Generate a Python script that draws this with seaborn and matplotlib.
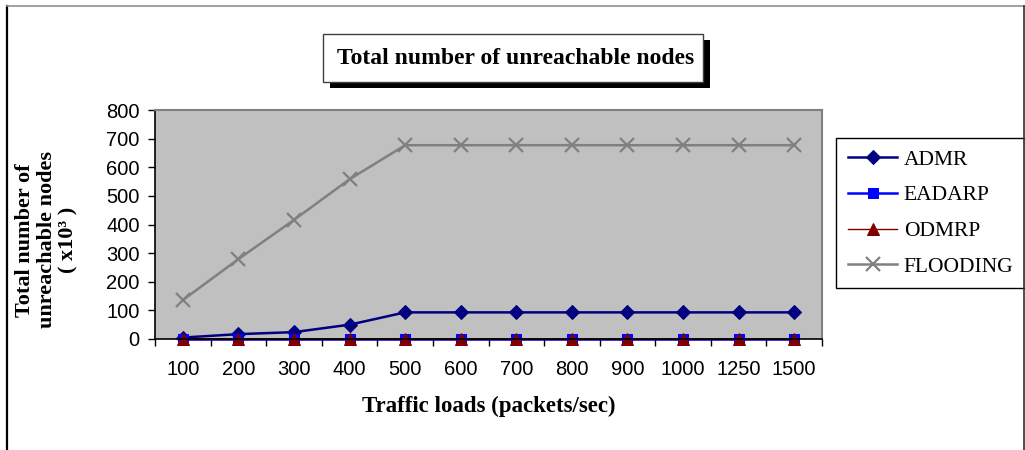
import matplotlib
matplotlib.use("Agg")
import matplotlib.pyplot as plt
import seaborn as sns
import pandas as pd
from matplotlib.patches import Rectangle
from matplotlib.lines import Line2D

# Traffic loads (packets/sec)
loads = ["100", "200", "300", "400", "500", "600", "700", "800", "900", "1000", "1250", "1500"]

# Unreachable nodes (x10^3) per protocol
admr = [5, 17, 24, 50, 93, 93, 93, 93, 93, 93, 93, 93]
eadarp = [1, 1, 1, 1, 1, 1, 1, 1, 1, 1, 1, 1]
odmrp = [0, 0, 0, 0, 0, 0, 0, 0, 0, 0, 0, 0]
flooding = [136, 279, 416, 558, 677, 677, 677, 677, 677, 677, 677, 677]

y_ticks = [0, 100, 200, 300, 400, 500, 600, 700, 800]

series = {"ADMR": admr, "EADARP": eadarp, "ODMRP": odmrp, "FLOODING": flooding}
styles = {
    "ADMR": dict(color="#000080", marker="D", markersize=7.5, linewidth=1.8),
    "EADARP": dict(color="#0000FF", marker="s", markersize=7, linewidth=1.8),
    "ODMRP": dict(color="#800000", marker="^", markersize=8.5, linewidth=1.0),
    "FLOODING": dict(color="#808080", marker="x", markersize=10, linewidth=1.8,
                     markeredgewidth=1.6),
}

df = pd.DataFrame(
    [(name, load, val) for name, vals in series.items() for load, val in zip(loads, vals)],
    columns=["protocol", "load", "value"],
)

W, H = 1025, 450
fig = plt.figure(figsize=(W / 100, H / 100), dpi=100)
fig.patch.set_facecolor("white")

ax = fig.add_axes([155 / W, 1 - 339 / H, (822 - 155) / W, (339 - 110) / H])
ax.set_facecolor("#C0C0C0")

for name in ["ADMR", "EADARP", "ODMRP", "FLOODING"]:
    st = dict(styles[name])
    sub = df[df["protocol"] == name]
    sns.lineplot(data=sub, x="load", y="value", ax=ax, sort=False, label=name,
                 markeredgecolor=st["color"], clip_on=False, **st)

ax.set_xlim(-0.5, len(loads) - 0.5)
ax.set_ylim(0, 800)
ax.set_yticks(y_ticks)
ax.set_yticklabels([str(v) for v in y_ticks], fontsize=14.5, family="Liberation Sans")
ax.set_xticks(range(len(loads)))
ax.set_xticklabels(loads, fontsize=14.5, family="Liberation Sans")
ax.set_xticks([i - 0.5 for i in range(len(loads) + 1)], minor=True)
ax.tick_params(axis="x", which="major", length=0, pad=15)
ax.tick_params(axis="x", which="minor", length=5, width=1, direction="out", color="black")
ax.tick_params(axis="y", which="major", length=5, width=1, direction="out", color="black", pad=6)
ax.grid(False)

for side in ["left", "bottom"]:
    ax.spines[side].set_color("black")
    ax.spines[side].set_linewidth(1.2)
for side in ["top", "right"]:
    ax.spines[side].set_color("#808080")
    ax.spines[side].set_linewidth(1.5)

ax.set_xlabel("Traffic loads (packets/sec)", fontsize=16.5, fontweight="bold",
              family="Liberation Serif", labelpad=12)
ax.set_ylabel("")

fig.text(47 / W, 1 - 240 / H, "Total number of\nunreachable nodes\n( x10³ )",
         rotation=90, ha="center", va="center", fontsize=16, fontweight="bold",
         family="Liberation Serif", linespacing=1.12, multialignment="center")

# Title box with drop shadow
bx0, bx1, by0, by1 = 323, 703, 34, 82
fig.add_artist(Rectangle(((bx0 + 7) / W, 1 - (by1 + 6) / H), (bx1 - bx0) / W, (by1 - by0) / H,
                         transform=fig.transFigure, facecolor="black", edgecolor="none", zorder=5))
fig.add_artist(Rectangle((bx0 / W, 1 - by1 / H), (bx1 - bx0) / W, (by1 - by0) / H,
                         transform=fig.transFigure, facecolor="white", edgecolor="#404040",
                         linewidth=1.0, zorder=6))
fig.text((bx0 + bx1) / 2 / W + 3 / W, 1 - (by0 + by1) / 2 / H, "Total number of unreachable nodes",
         ha="center", va="center", fontsize=17, fontweight="bold",
         family="Liberation Serif", zorder=7)

leg = ax.legend(loc="upper left", bbox_to_anchor=(836 / W, 1 - 138 / H),
                bbox_transform=fig.transFigure, frameon=True, fancybox=False,
                edgecolor="black", framealpha=1, borderaxespad=0, borderpad=0.55,
                handlelength=2.3, handletextpad=0.3, labelspacing=0.72,
                prop={"family": "Liberation Serif", "size": 15.5})
leg.get_frame().set_linewidth(1.0)

# Outer frame of the chart area
fig.add_artist(Line2D([7 / W, 7 / W], [0, 1 - 6 / H], transform=fig.transFigure,
                      color="black", linewidth=1.6))
fig.add_artist(Line2D([7 / W, 1], [1 - 6 / H, 1 - 6 / H], transform=fig.transFigure,
                      color="#909090", linewidth=1.2))
fig.add_artist(Line2D([1023.5 / W, 1023.5 / W], [0, 1 - 6 / H], transform=fig.transFigure,
                      color="#303030", linewidth=1.2))

fig.savefig("out.png", dpi=100, facecolor="white")
